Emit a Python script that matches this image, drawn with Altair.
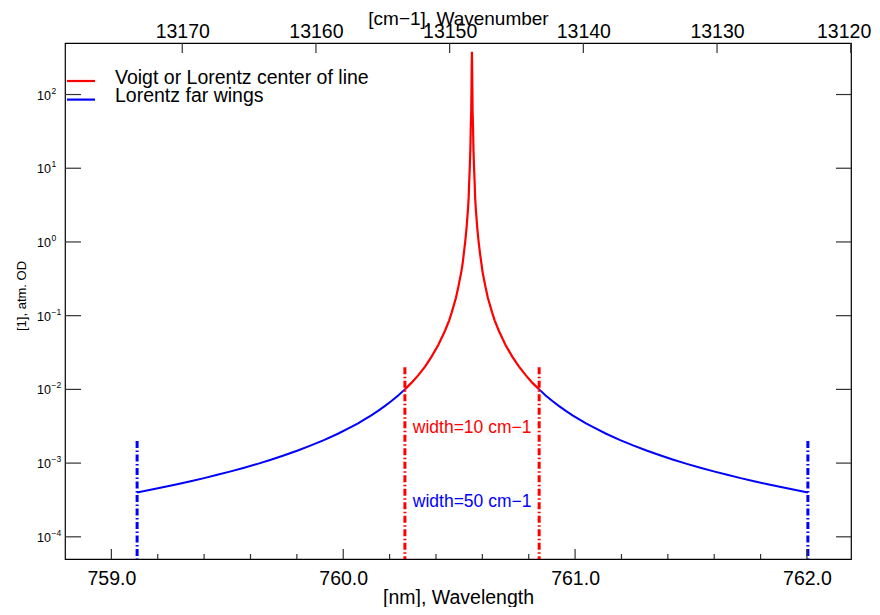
import altair as alt
import pandas as pd

FONT = "Liberation Sans"
W, H = 786, 516

# ---- data ----
wing_left_wl = [759.111, 759.169, 759.227, 759.284, 759.342, 759.400, 759.457, 759.515,
                759.573, 759.631, 759.688, 759.746, 759.804, 759.861, 759.919, 759.977,
                760.035, 760.064, 760.092, 760.121, 760.150, 760.179, 760.208, 760.237, 760.266]
wing_left_od = [4.00e-4, 4.34e-4, 4.73e-4, 5.17e-4, 5.67e-4, 6.25e-4, 6.93e-4, 7.72e-4,
                8.65e-4, 9.77e-4, 1.11e-3, 1.28e-3, 1.48e-3, 1.74e-3, 2.07e-3, 2.50e-3,
                3.09e-3, 3.46e-3, 3.91e-3, 4.44e-3, 5.10e-3, 5.92e-3, 6.94e-3, 8.26e-3, 1.00e-2]

center_wl = [760.266, 760.295, 760.324, 760.353, 760.381, 760.410, 760.439, 760.457,
             760.468, 760.486, 760.497, 760.509, 760.515, 760.520, 760.526, 760.532,
             760.538, 760.541, 760.543, 760.546, 760.548, 760.549, 760.550, 760.552,
             760.553, 760.554, 760.555,
             760.556, 760.557, 760.558, 760.560, 760.561, 760.562, 760.564, 760.567,
             760.569, 760.572, 760.578, 760.584, 760.590, 760.596, 760.601, 760.613,
             760.624, 760.642, 760.653, 760.671, 760.700, 760.729, 760.758, 760.787,
             760.815, 760.845]
center_od = [0.0100, 0.01235, 0.0156, 0.0204, 0.0278, 0.0400, 0.0625, 0.0865,
             0.111, 0.174, 0.250, 0.390, 0.510, 0.694, 1.00, 1.56,
             2.76, 3.96, 6.14, 10.8, 16.6, 23.4, 35.4, 58.5,
             110.0, 234.0, 380.0,
             234.0, 110.0, 58.5, 35.4, 23.4, 16.6, 10.8, 6.14,
             3.96, 2.76, 1.56, 1.00, 0.694, 0.510, 0.390, 0.250,
             0.174, 0.111, 0.0865, 0.0625, 0.0400, 0.0278, 0.0204, 0.0156,
             0.01235, 0.0100]

wing_right_wl = [760.845, 760.873, 760.902, 760.931, 760.960, 760.989, 761.018, 761.047,
                 761.076, 761.134, 761.192, 761.250, 761.308, 761.366, 761.424, 761.482,
                 761.540, 761.598, 761.656, 761.714, 761.772, 761.831, 761.888, 761.946, 762.004]
wing_right_od = [1.00e-2, 8.26e-3, 6.94e-3, 5.92e-3, 5.10e-3, 4.44e-3, 3.91e-3, 3.46e-3,
                 3.09e-3, 2.50e-3, 2.07e-3, 1.74e-3, 1.48e-3, 1.28e-3, 1.11e-3, 9.77e-4,
                 8.65e-4, 7.72e-4, 6.93e-4, 6.25e-4, 5.67e-4, 5.17e-4, 4.73e-4, 4.34e-4, 4.00e-4]

series_names = ["Voigt or Lorentz center of line", "Lorentz far wings"]
series_colors = ["#ff0000", "#0000ff"]

marker_wl = [759.111, 760.266, 760.845, 762.004]
marker_top = [0.002, 0.02, 0.02, 0.002]
marker_color = ["#0000ff", "#ff0000", "#ff0000", "#0000ff"]

note_wl = [760.30, 760.30]
note_od = [3.0e-3, 3.0e-4]
note_text = ["width=10 cm\u22121", "width=50 cm\u22121"]
note_color = ["#ff0000", "#0000ff"]

wl_major = [759.0, 760.0, 761.0, 762.0]
wl_minor = [759.2, 759.4, 759.6, 759.8, 760.2, 760.4, 760.6, 760.8,
            761.2, 761.4, 761.6, 761.8]
wn_major = [13170, 13160, 13150, 13140, 13130, 13120]
y_tick_vals = [1e-4, 1e-3, 1e-2, 1e-1, 1.0, 10.0, 100.0]
y_exp_labels = ["\u22124", "\u22123", "\u22122", "\u22121", "0", "1", "2"]
y_title = "[1], atm. OD"

wl_domain = [758.80, 762.19]
wn_domain = [13119.98, 13178.77]
od_domain = [5e-5, 500]

# ---- tables ----
wings = pd.DataFrame({
    "wl": wing_left_wl + wing_right_wl,
    "od": wing_left_od + wing_right_od,
    "seg": ["left"] * len(wing_left_wl) + ["right"] * len(wing_right_wl),
})
center = pd.DataFrame({"wl": center_wl, "od": center_od})
markers = pd.DataFrame({"wl": marker_wl, "top": marker_top, "color": marker_color})
notes = pd.DataFrame({"wl": note_wl, "od": note_od, "text": note_text, "color": note_color})
ylab = pd.DataFrame({"v": y_tick_vals, "base": ["10"] * len(y_tick_vals), "exp": y_exp_labels})


def xs():
    return alt.Scale(domain=wl_domain, nice=False, zero=False)


ys = alt.Scale(type="log", domain=od_domain, nice=False)
ws = alt.Scale(domain=wn_domain, nice=False, zero=False, reverse=True)

bottom_axis = alt.Axis(orient="bottom", values=wl_major, format=".1f", ticks=False,
                       domain=False, grid=False,
                       labelFontSize=19.5, labelPadding=19, labelBaseline="middle",
                       labelFlush=False,
                       title="[nm], Wavelength", titleFontSize=19.5, titleX=W / 2,
                       titleY=38, titleBaseline="middle", titleAlign="center")
top_axis = alt.Axis(orient="top", values=wn_major, format="d", ticks=False, domain=False,
                    grid=False, labelFlush=1, labelFlushOffset=20, labelFontSize=19.5,
                    labelPadding=11.5, labelBaseline="middle",
                    title="[cm\u22121], Wavenumber", titleFontSize=19, titleX=W / 2,
                    titleY=-25, titleBaseline="middle", titleAlign="center")

wing_line = alt.Chart(wings).mark_line(strokeWidth=2, color="#0000ff").encode(
    x=alt.X("wl:Q", scale=xs(), axis=bottom_axis),
    y=alt.Y("od:Q", scale=ys, axis=None),
    detail="seg:N",
)
center_line = alt.Chart(center).mark_line(strokeWidth=2.2, color="#ff0000").encode(
    x=alt.X("wl:Q", scale=xs(), axis=None),
    y=alt.Y("od:Q", scale=ys, axis=None),
)
marker_rules = alt.Chart(markers).mark_rule(strokeWidth=3, strokeDash=[7, 2.5, 1.5, 2.5]).encode(
    x=alt.X("wl:Q", scale=xs(), axis=None),
    y=alt.Y("top:Q", scale=ys, axis=None),
    y2=alt.value(H),
    color=alt.Color("color:N", scale=None),
)
note_text_layer = alt.Chart(notes).mark_text(align="left", baseline="middle", fontSize=17.5,
                                              font=FONT).encode(
    x=alt.X("wl:Q", scale=xs(), axis=None),
    y=alt.Y("od:Q", scale=ys, axis=None),
    text="text:N",
    color=alt.Color("color:N", scale=None),
)

tick_color = "#333333"
xmaj = alt.Chart(pd.DataFrame({"t": wl_major})).mark_rule(color=tick_color, strokeWidth=1.2).encode(
    x=alt.X("t:Q", scale=xs(), axis=None), y=alt.value(H), y2=alt.value(H - 10))
xmin = alt.Chart(pd.DataFrame({"t": wl_minor})).mark_rule(color=tick_color, strokeWidth=1.2).encode(
    x=alt.X("t:Q", scale=xs(), axis=None), y=alt.value(H), y2=alt.value(H - 5))
yleft = alt.Chart(pd.DataFrame({"v": y_tick_vals})).mark_rule(color=tick_color, strokeWidth=1.2).encode(
    y=alt.Y("v:Q", scale=ys, axis=None), x=alt.value(0), x2=alt.value(16))
yright = alt.Chart(pd.DataFrame({"v": y_tick_vals})).mark_rule(color=tick_color, strokeWidth=1.2).encode(
    y=alt.Y("v:Q", scale=ys, axis=None), x=alt.value(W - 15), x2=alt.value(W))

ybase = alt.Chart(ylab).mark_text(align="right", baseline="middle", fontSize=12.5, font=FONT,
                                  dy=1, color="black").encode(
    y=alt.Y("v:Q", scale=ys, axis=None), x=alt.value(-14), text="base:N")
yexp = alt.Chart(ylab).mark_text(align="left", baseline="middle", fontSize=8.5, font=FONT,
                                 dy=-4, color="black").encode(
    y=alt.Y("v:Q", scale=ys, axis=None), x=alt.value(-13.5), text="exp:N")
ytitle = alt.Chart(pd.DataFrame({"t": [y_title]})).mark_text(
    angle=270, align="center", baseline="middle", fontSize=13, font=FONT, color="black"
).encode(x=alt.value(-43.5), y=alt.value(253), text="t:N")

legend_layers = []
for i, (nm, col) in enumerate(zip(series_names, series_colors)):
    d = pd.DataFrame({"name": [nm]})
    legend_layers.append(alt.Chart(d).mark_rule(color=col, strokeWidth=2.2).encode(
        x=alt.value(2), x2=alt.value(30), y=alt.value(38 + 18.6 * i)))
    legend_layers.append(alt.Chart(d).mark_text(align="left", baseline="middle", fontSize=19.5,
                                                font=FONT, color="black").encode(
        x=alt.value(50), y=alt.value(34.5 + 18.6 * i), text="name:N"))

top = alt.Chart(pd.DataFrame({"wn": wn_major})).mark_rule(color=tick_color, strokeWidth=1.2).encode(
    x=alt.X("wn:Q", scale=ws, axis=top_axis), y=alt.value(0), y2=alt.value(10))

chart = alt.layer(wing_line, center_line, marker_rules, note_text_layer,
                  xmaj, xmin, yleft, yright, ybase, yexp, ytitle, *legend_layers, top
                  ).resolve_scale(x="independent").properties(
    width=W, height=H,
    padding={"left": 57, "top": 35, "right": 21, "bottom": 48},
    autosize=alt.AutoSizeParams(type="none"),
).configure_view(stroke="black", strokeWidth=1.2).configure_axis(
    labelFont=FONT, titleFont=FONT, labelColor="black", titleColor="black",
    titleFontWeight="normal", grid=False,
)

chart.save("out.html", embed_options={"renderer": "svg", "actions": False})
